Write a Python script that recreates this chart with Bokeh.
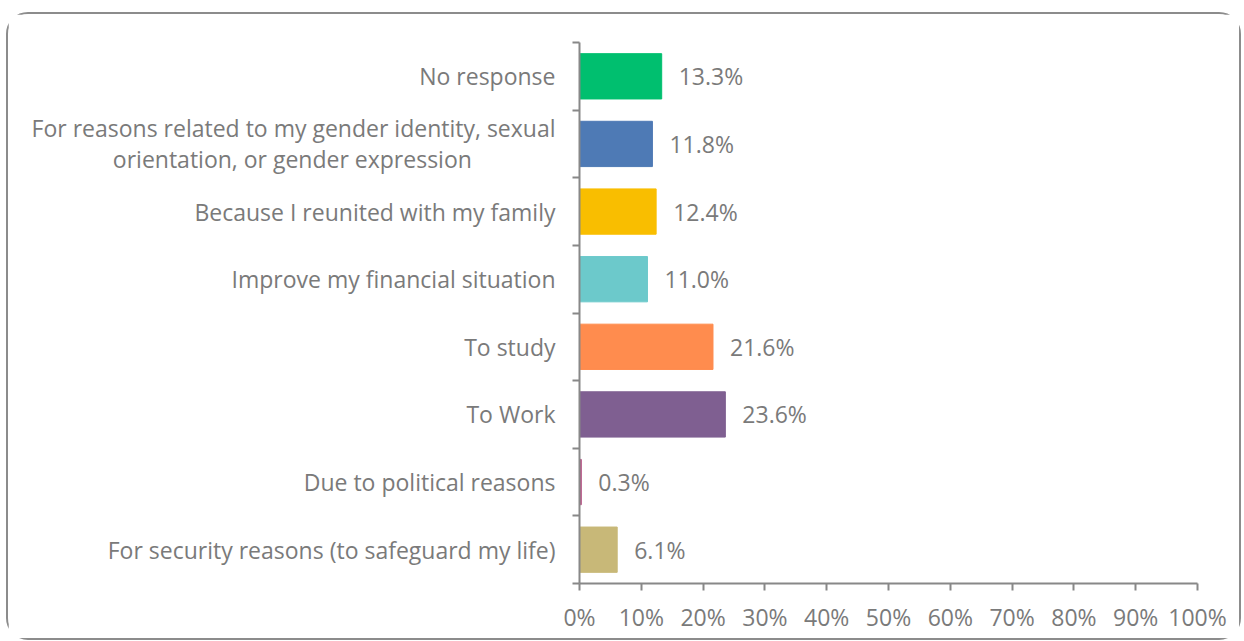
from bokeh.plotting import figure
from bokeh.models import Range1d, FixedTicker, PrintfTickFormatter, ColumnDataSource
from bokeh.core.properties import value
from bokeh.embed import file_html
from bokeh.resources import INLINE

categories = [
    "No response",
    "For reasons related to my gender identity, sexual\norientation, or gender expression",
    "Because I reunited with my family",
    "Improve my financial situation",
    "To study",
    "To Work",
    "Due to political reasons",
    "For security reasons (to safeguard my life)",
]
values = [13.3, 11.8, 12.4, 11.0, 21.6, 23.6, 0.3, 6.1]
colors = ["#00BF6F", "#4E7AB5", "#F9BE00", "#6CC9CB", "#FF8C4E", "#7F5F91", "#B85C8A", "#C8B878"]
x_ticks = list(range(0, 101, 10))

n = len(categories)
ypos = [n - 0.5 - i for i in range(n)]
labels = [f"{v:.1f}%" for v in values]

src = ColumnDataSource(dict(y=ypos, v=values, c=colors, lab=labels))

FONT = "Open Sans"
FS = "23px"
TXT = "#7A7A7A"
AX = "#888888"
NBSP = "\u00a0"


def centred(label, pad=14):
    # multi-line tick labels are right-aligned by Bokeh; pad the short line to centre it
    if "\n" not in label:
        return label
    first, second = label.split("\n")
    return first + "\n" + second + NBSP * pad


p = figure(width=1235, height=628, output_backend="svg", toolbar_location=None,
           x_range=Range1d(0, 100), y_range=Range1d(0, n),
           min_border_left=571, min_border_right=46, min_border_top=28, min_border_bottom=59)
p.outline_line_color = None
p.xgrid.grid_line_color = None
p.ygrid.grid_line_color = None

p.hbar(y="y", right="v", left=0, height=0.67, color="c", source=src)
p.text(x="v", y="y", text="lab", source=src, x_offset=17, text_baseline="middle",
       text_align="left", text_font=value(FONT), text_font_size=FS, text_color=TXT)

xa = p.xaxis[0]
xa.ticker = FixedTicker(ticks=x_ticks)
xa.formatter = PrintfTickFormatter(format="%d%%")
xa.axis_line_color = AX
xa.axis_line_width = 2
xa.major_tick_line_color = AX
xa.major_tick_line_width = 2
xa.major_tick_in = 0
xa.major_tick_out = 7
xa.minor_tick_line_color = None
xa.major_label_text_font = FONT
xa.major_label_text_font_size = FS
xa.major_label_text_color = TXT
xa.major_label_standoff = 10

ya = p.yaxis[0]
ya.ticker = FixedTicker(ticks=ypos, minor_ticks=list(range(0, n + 1)))
ya.major_label_overrides = {y: centred(c) for y, c in zip(ypos, categories)}
ya.axis_line_color = AX
ya.axis_line_width = 2
ya.major_tick_line_color = None
ya.minor_tick_line_color = AX
ya.minor_tick_line_width = 2
ya.minor_tick_in = 0
ya.minor_tick_out = 7
ya.major_label_text_font = FONT
ya.major_label_text_font_size = FS
ya.major_label_text_color = TXT
ya.major_label_text_line_height = 0.97
ya.major_label_standoff = 17

p.styles = {"border": "2px solid #8C8C8C", "border-radius": "22px", "box-sizing": "border-box",
            "margin-left": "6px", "margin-top": "12px"}

open("out.html", "w").write(file_html(p, INLINE))
